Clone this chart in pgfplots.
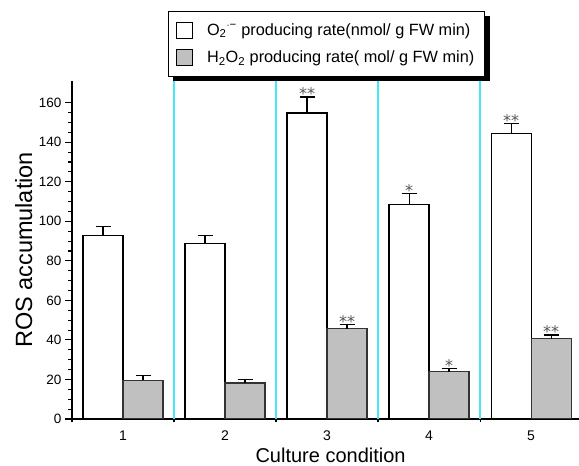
\documentclass[border=0pt]{standalone}
\usepackage{fontspec}
\setmainfont{Liberation Sans}
\newfontfamily\dejavu{DejaVu Sans}
\usepackage{pgfplots}
\pgfplotsset{compat=1.18}
\definecolor{cyanline}{RGB}{70,232,248}
\definecolor{bargray}{RGB}{192,192,192}
\definecolor{stargray}{RGB}{85,85,85}
\begin{document}
\begin{tikzpicture}
\begin{axis}[
  scale only axis, width=507pt, height=338pt,
  xmin=0.5, xmax=5.47, ymin=0, ymax=171,
  axis x line*=bottom, axis y line*=left,
  axis line style={line width=1.2pt, -},
  /pgf/number format/assume math mode=true,
  xtick={0.5,1.5,2.5,3.5,4.5},
  xticklabels={1,2,3,4,5},
  x tick label style={font=\fontsize{14}{16}\selectfont, xshift=51pt, yshift=-5pt},
  xtick align=center,
  ytick={0,20,...,160},
  minor y tick num=3,
  ytick align=outside,
  major tick length=7pt,
  minor tick length=4pt,
  tick style={line width=1.1pt, black},
  y tick label style={font=\fontsize{13.5}{16}\selectfont},
  ylabel={ROS accumulation},
  xlabel={Culture condition},
  xlabel style={font=\fontsize{20}{24}\selectfont, at={(axis description cs:0.51,-0.107)}, anchor=center},
  ylabel style={font=\fontsize{23.5}{28}\selectfont, at={(axis description cs:-0.095,0.5)}, anchor=center, rotate=0},
  legend style={at={(axis description cs:0.189,1.207)}, anchor=north west, name=leg,
    draw=black, line width=0.8pt, fill=white,
    font=\fontsize{16.3}{19}\selectfont, row sep=10pt, inner xsep=8pt, inner ysep=10pt,
    /tikz/every odd column/.append style={column sep=12pt}},
  legend cell align=left,
]
\draw[cyanline, line width=2pt] (axis cs:1.5,0) -- (axis cs:1.5,171);
\draw[cyanline, line width=2pt] (axis cs:2.5,0) -- (axis cs:2.5,171);
\draw[cyanline, line width=2pt] (axis cs:3.5,0) -- (axis cs:3.5,171);
\draw[cyanline, line width=2pt] (axis cs:4.5,0) -- (axis cs:4.5,171);
\addplot[ybar, bar width=40pt, bar shift=-20pt, fill=white, draw=black, line width=1.1pt,
  legend image code/.code={\draw[fill=white, draw=black, line width=0.8pt] (0pt,-8pt) rectangle (16pt,8pt);}]
coordinates {(1,92.8) (2,88.6) (3,154.8) (4,108.7) (5,144.6)};
\addlegendentry{O\textsubscript{2}\textsuperscript{$\cdot$−} producing rate(nmol/ g FW min)}
\addplot[ybar, bar width=40pt, bar shift=20pt, fill=bargray, draw=black!80, line width=1.1pt,
  legend image code/.code={\draw[fill=bargray, draw=black, line width=0.8pt] (0pt,-8pt) rectangle (16pt,8pt);}]
coordinates {(1,19.7) (2,18.2) (3,45.6) (4,24.0) (5,40.5)};
\addlegendentry{H\textsubscript{2}O\textsubscript{2} producing rate( mol/ g FW min)}
% error bars at the bar centres
\addplot[draw=none, mark=none, forget plot,
  error bars/.cd, y dir=plus, y explicit,
  error bar style={draw=black, line width=1.1pt},
  error mark options={rotate=90, mark size=7.5pt, line width=1.1pt, draw=black}]
coordinates {(0.804,92.8) +- (0,4.8) (1.804,88.6) +- (0,4.4) (2.804,154.8) +- (0,8.1) (3.804,108.7) +- (0,5.6) (4.804,144.6) +- (0,5.1)
             (1.196,19.7) +- (0,2.3) (2.196,18.2) +- (0,2.0) (3.196,45.6) +- (0,2.4) (4.196,24.0) +- (0,1.5) (5.196,40.5) +- (0,2.0)};
\addplot[draw=none, mark=none, forget plot, nodes near coords, point meta=explicit symbolic,
  nodes near coords style={font=\dejavu\fontsize{16}{16}\selectfont, text=stargray, anchor=base, inner sep=0pt, yshift=-3pt}]
coordinates {(2.804,163)[**] (3.196,48)[**] (3.804,114.3)[*] (4.196,25.5)[*] (4.804,149.7)[**] (5.196,42.5)[**]};
\end{axis}
\fill[black] ([xshift=5pt]leg.south west) rectangle ([xshift=5pt,yshift=-5pt]leg.south east);
\fill[black] ([yshift=-5pt]leg.north east) rectangle ([xshift=5pt,yshift=-5pt]leg.south east);
\pgfresetboundingbox
\useasboundingbox (-72pt,-47pt) rectangle (507pt,419pt);
\end{tikzpicture}
\end{document}
